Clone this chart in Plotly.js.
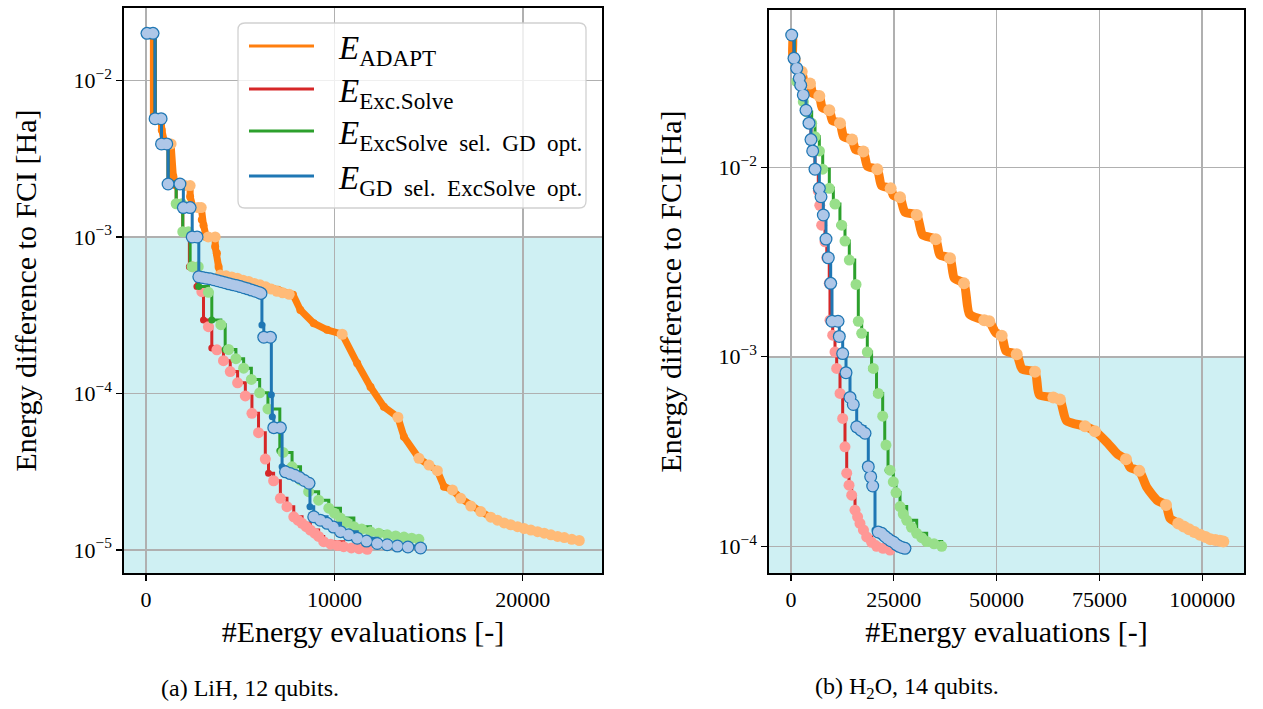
<!DOCTYPE html>
<html><head><meta charset="utf-8">
<script src="https://cdn.plot.ly/plotly-3.0.1.min.js"></script>
<style>html,body{margin:0;padding:0;background:#fff;} #chart{width:1263px;height:709px;}</style>
</head><body><div id="chart"></div>
<script>
// ---------- LiH (left panel) ----------
const lihOrangePathX = [50,390,390,800,835,1000,1330,1367,1450,1600,2340,2340,2500,2930,2960,3050,3200,3670,3670,3760,3850,3940,5000,6000,7000,7800,8190,8900,9610,10410,11207,11915,12622,13367,13686,14484,15016,15463,15814,16261,16702,17234,17766,18298,19005,19718,20425,21133,21846,22994];
const lihOrangePathY = [2.0e-2,2.0e-2,5.7e-3,5.7e-3,4.83e-3,3.93e-3,3.93e-3,2.75e-3,2.43e-3,2.13e-3,2.13e-3,1.81e-3,1.54e-3,1.54e-3,1.29e-3,1.19e-3,1.0e-3,1.0e-3,8.67e-4,7.86e-4,6.46e-4,5.71e-4,5.4e-4,5.0e-4,4.6e-4,4.28e-4,3.42e-4,2.81e-4,2.55e-4,2.39e-4,1.56e-4,1.10e-4,8.23e-5,7.05e-5,5.30e-5,3.85e-5,3.49e-5,3.21e-5,2.54e-5,2.42e-5,2.14e-5,1.91e-5,1.76e-5,1.62e-5,1.49e-5,1.41e-5,1.34e-5,1.28e-5,1.22e-5,1.15e-5];
const lihOrangeIterX = [50,370,480,800,1000,1330,2070,2340,2760,2930,3300,3670,3940,4250,4550,4850,5150,5450,5750,6050,6350,6650,6950,7250,7600,10410,13367,14484,15016,15463,16261,16702,17234,17766,18298,18650,19005,19350,19718,20070,20425,20780,21133,21490,21846,22200,22600,22994];
const lihOrangeIterY = [2.0e-2,2.0e-2,5.7e-3,5.7e-3,3.93e-3,3.93e-3,2.13e-3,2.13e-3,1.54e-3,1.54e-3,1.0e-3,1.0e-3,5.71e-4,5.65e-4,5.55e-4,5.45e-4,5.3e-4,5.2e-4,5.05e-4,4.95e-4,4.8e-4,4.65e-4,4.5e-4,4.4e-4,4.3e-4,2.39e-4,7.05e-5,3.85e-5,3.49e-5,3.21e-5,2.42e-5,2.14e-5,1.91e-5,1.76e-5,1.62e-5,1.55e-5,1.49e-5,1.45e-5,1.41e-5,1.37e-5,1.34e-5,1.31e-5,1.28e-5,1.25e-5,1.22e-5,1.2e-5,1.17e-5,1.15e-5];

const lihRedPathX = [50,370,480,800,820,1100,1170,1500,1600,1900,1950,2250,2300,2600,2700,2960,3050,3310,3490,3760,4110,4470,4860,5270,5620,5970,6330,6500,6770,7130,7480,7840,8280,8720,9160,9430,10490,11740];
const lihRedPathY = [2.0e-2,2.0e-2,5.7e-3,5.7e-3,3.93e-3,3.93e-3,2.18e-3,2.18e-3,1.63e-3,1.63e-3,1.08e-3,1.08e-3,6.46e-4,6.46e-4,4.82e-4,4.47e-4,2.95e-4,2.67e-4,1.95e-4,1.90e-4,1.62e-4,1.38e-4,1.17e-4,9.64e-5,7.47e-5,5.62e-5,3.81e-5,3.09e-5,2.77e-5,2.14e-5,1.89e-5,1.63e-5,1.48e-5,1.34e-5,1.22e-5,1.13e-5,1.05e-5,1.01e-5];
const lihRedIterX = [2450,2960,3310,3760,4110,4470,4860,5270,5620,5970,6330,6770,7130,7480,7840,8060,8280,8500,8720,8950,9160,9430,9800,10150,10490,10900,11300,11740];
const lihRedIterY = [6.46e-4,4.47e-4,2.67e-4,1.90e-4,1.62e-4,1.38e-4,1.17e-4,9.64e-5,7.47e-5,5.62e-5,3.81e-5,2.77e-5,2.14e-5,1.89e-5,1.63e-5,1.55e-5,1.48e-5,1.41e-5,1.34e-5,1.28e-5,1.22e-5,1.13e-5,1.09e-5,1.07e-5,1.05e-5,1.03e-5,1.02e-5,1.01e-5];

const lihGreenPathX = [50,370,480,800,820,1100,1170,1500,1600,1900,1950,2250,2340,2770,2800,3310,3490,3970,4200,4380,4770,5180,5590,6030,6470,7100,7270,7750,8200,8630,9160,9700,10320,11030,11910,12800,13690,14480];
const lihGreenPathY = [2.0e-2,2.0e-2,5.7e-3,5.7e-3,3.93e-3,3.93e-3,2.18e-3,2.18e-3,1.63e-3,1.63e-3,1.08e-3,1.08e-3,6.46e-4,6.46e-4,4.82e-4,4.43e-4,2.95e-4,2.75e-4,1.91e-4,1.91e-4,1.67e-4,1.45e-4,1.23e-4,1.01e-4,7.97e-5,4.3e-5,4.2e-5,3.4e-5,2.8e-5,2.36e-5,2.08e-5,1.85e-5,1.60e-5,1.41e-5,1.31e-5,1.25e-5,1.21e-5,1.17e-5];
const lihGreenIterX = [1600,1900,1950,2250,2450,2770,3310,3970,4380,4770,5180,5590,6030,6470,7270,7750,8200,8630,9160,9700,10000,10320,10650,11030,11450,11910,12350,12800,13250,13690,14100,14480];
const lihGreenIterY = [1.63e-3,1.63e-3,1.08e-3,1.08e-3,6.46e-4,6.46e-4,4.43e-4,2.75e-4,1.91e-4,1.67e-4,1.45e-4,1.23e-4,1.01e-4,7.97e-5,4.2e-5,3.4e-5,2.8e-5,2.36e-5,2.08e-5,1.85e-5,1.72e-5,1.60e-5,1.50e-5,1.41e-5,1.36e-5,1.31e-5,1.28e-5,1.25e-5,1.23e-5,1.21e-5,1.19e-5,1.17e-5];

const lihBluePathX = [50,370,480,800,820,1100,1170,1800,1980,2340,2450,2710,2800,3200,3700,4200,4700,5200,5700,6100,6150,6250,6600,6650,6700,6780,7130,7220,7400,7800,8200,8650,8700,8900,9610,10320,11210,12270,13340,14570];
const lihBluePathY = [2.0e-2,2.0e-2,5.7e-3,5.7e-3,3.93e-3,3.93e-3,2.18e-3,2.18e-3,1.54e-3,1.54e-3,1.0e-3,1.0e-3,5.57e-4,5.45e-4,5.3e-4,5.1e-4,4.9e-4,4.7e-4,4.5e-4,4.36e-4,2.74e-4,2.29e-4,2.29e-4,9.8e-5,7.1e-5,6.05e-5,6.05e-5,3.4e-5,3.16e-5,3.0e-5,2.85e-5,2.67e-5,1.89e-5,1.63e-5,1.48e-5,1.31e-5,1.19e-5,1.10e-5,1.06e-5,1.03e-5];
const lihBlueIterX = [50,370,480,800,820,1100,1170,1800,1980,2340,2450,2710,2800,3000,3200,3400,3600,3800,4000,4200,4400,4600,4800,5000,5200,5400,5600,5800,6000,6100,6250,6600,6780,7130,7400,7650,7900,8150,8400,8650,8900,9250,9610,9950,10320,10750,11210,11700,12270,12800,13340,13900,14570];
const lihBlueIterY = [2.0e-2,2.0e-2,5.7e-3,5.7e-3,3.93e-3,3.93e-3,2.18e-3,2.18e-3,1.54e-3,1.54e-3,1.0e-3,1.0e-3,5.57e-4,5.5e-4,5.45e-4,5.4e-4,5.33e-4,5.25e-4,5.18e-4,5.1e-4,5.02e-4,4.96e-4,4.9e-4,4.82e-4,4.74e-4,4.66e-4,4.58e-4,4.5e-4,4.42e-4,4.36e-4,2.29e-4,2.29e-4,6.05e-5,6.05e-5,3.16e-5,3.08e-5,3.0e-5,2.9e-5,2.78e-5,2.67e-5,1.63e-5,1.55e-5,1.48e-5,1.4e-5,1.31e-5,1.25e-5,1.19e-5,1.14e-5,1.10e-5,1.08e-5,1.06e-5,1.045e-5,1.03e-5];

// ---------- H2O (right panel) ----------
const h2oOrangePathX = [170,410,410,970,1400,2600,3200,4620,5300,6890,7600,9320,10100,11920,12800,14840,15700,17590,18600,20990,22000,24240,24900,26510,27700,30570,32000,35190,36200,38670,39700,42070,43400,47000,48200,49800,51240,52300,54890,56200,59340,60400,63800,65400,67000,71500,73930,77000,79500,81470,82500,84710,86500,89000,91200,92200,94190,96800,99470,102000,105140];
const h2oOrangePathY = [0.0499,0.0499,0.039,0.0368,0.033,0.0319,0.0285,0.0277,0.0245,0.0238,0.0206,0.020,0.0176,0.0171,0.0145,0.0140,0.0124,0.0121,0.0101,9.75e-3,8.0e-3,7.74e-3,7.1e-3,6.94e-3,5.8e-3,5.60e-3,4.4e-3,4.17e-3,3.45e-3,3.31e-3,2.6e-3,2.44e-3,1.68e-3,1.56e-3,1.54e-3,1.34e-3,1.29e-3,1.07e-3,1.03e-3,8.6e-4,8.33e-4,6.3e-4,6.1e-4,5.95e-4,4.6e-4,4.3e-4,4.05e-4,3.5e-4,3.05e-4,2.88e-4,2.6e-4,2.50e-4,2.05e-4,1.75e-4,1.65e-4,1.4e-4,1.32e-4,1.23e-4,1.15e-4,1.09e-4,1.06e-4];
const h2oOrangeIterX = [170,970,2600,4620,6890,9320,11920,14840,17590,20990,24240,26510,30570,35190,38670,42070,47000,48200,51240,54890,59340,63800,65400,71500,73930,81470,84710,91200,94190,95500,96800,98100,99470,100800,102000,103200,104300,105140];
const h2oOrangeIterY = [0.0499,0.0368,0.0319,0.0277,0.0238,0.020,0.0171,0.0140,0.0121,9.75e-3,7.74e-3,6.94e-3,5.60e-3,4.17e-3,3.31e-3,2.44e-3,1.56e-3,1.54e-3,1.29e-3,1.03e-3,8.33e-4,6.1e-4,5.95e-4,4.3e-4,4.05e-4,2.88e-4,2.50e-4,1.65e-4,1.32e-4,1.27e-4,1.23e-4,1.19e-4,1.15e-4,1.12e-4,1.09e-4,1.08e-4,1.07e-4,1.06e-4];

const h2oRedX = [170,730,1390,2020,2360,2990,3650,4380,4860,5280,5840,6640,7000,7460,8270,8700,9300,9480,10140,10700,11110,11920,12570,13130,13550,14110,14760,15570,16200,16780,17600,18410,19600,20840,22400,24080];
const h2oRedY = [0.0499,0.0376,0.0333,0.0295,0.0271,0.0241,0.020,0.0171,0.0140,0.0122,9.77e-3,7.5e-3,6.3e-3,4.95e-3,4.04e-3,3.33e-3,2.44e-3,1.56e-3,1.30e-3,1.06e-3,8.68e-4,6.41e-4,4.73e-4,3.35e-4,2.43e-4,2.10e-4,1.86e-4,1.55e-4,1.43e-4,1.32e-4,1.22e-4,1.12e-4,1.05e-4,1.0e-4,9.75e-5,9.55e-5];

const h2oGreenPathX = [170,800,1390,2990,3820,5030,5840,6890,7710,9320,10300,10700,11900,12330,13130,14180,15500,15810,16370,17190,18560,19600,20020,20800,21230,22300,22800,23100,23600,24080,24880,25540,26510,28140,30570,33000,36650];
const h2oGreenPathY = [0.0499,0.0376,0.0283,0.0222,0.0196,0.0171,0.0145,0.0122,9.77e-3,7.74e-3,6.4e-3,6.40e-3,4.95e-3,4.95e-3,4.08e-3,3.24e-3,2.41e-3,2.41e-3,1.54e-3,1.33e-3,1.06e-3,8.68e-4,8.68e-4,6.41e-4,6.41e-4,4.86e-4,3.42e-4,3.42e-4,2.52e-4,2.52e-4,2.19e-4,1.92e-4,1.62e-4,1.37e-4,1.17e-4,1.06e-4,1.0e-4];
const h2oGreenIterX = [170,800,1390,2990,3820,5030,5840,6890,7710,9320,10700,12330,13130,14180,15810,16370,17190,18560,20020,21230,22300,23100,24080,24880,25540,26510,27300,28140,29300,30570,31800,33000,34800,36650];
const h2oGreenIterY = [0.0499,0.0376,0.0283,0.0222,0.0196,0.0171,0.0145,0.0122,9.77e-3,7.74e-3,6.40e-3,4.95e-3,4.08e-3,3.24e-3,2.41e-3,1.54e-3,1.33e-3,1.06e-3,8.68e-4,6.41e-4,4.86e-4,3.42e-4,2.52e-4,2.19e-4,1.92e-4,1.62e-4,1.48e-4,1.37e-4,1.26e-4,1.17e-4,1.11e-4,1.06e-4,1.03e-4,1.0e-4];

const h2oBluePathX = [170,730,1390,2020,2360,2990,3650,4380,4860,5280,5840,6890,7300,7860,8510,9070,9650,9970,11430,11750,12570,13380,14350,15150,15980,18000,18800,19380,19870,20430,22060,23500,25000,26300,27720];
const h2oBluePathY = [0.0499,0.0376,0.0333,0.0295,0.0271,0.0241,0.020,0.0171,0.0140,0.0122,9.77e-3,7.74e-3,6.99e-3,5.60e-3,4.18e-3,3.33e-3,2.44e-3,1.54e-3,1.54e-3,1.28e-3,1.04e-3,8.24e-4,6.1e-4,5.6e-4,4.27e-4,3.95e-4,2.63e-4,2.33e-4,2.08e-4,1.22e-4,1.17e-4,1.1e-4,1.05e-4,1.0e-4,9.75e-5];
const h2oBlueIterX = [170,730,1390,2020,2360,2990,3650,4380,4860,5280,5840,6890,7300,7860,8510,9070,9650,9970,11430,11750,12570,13380,14350,15150,15980,17000,18000,18800,19380,19870,21200,22060,22800,23500,24250,25000,25650,26300,27000,27720];
const h2oBlueIterY = [0.0499,0.0376,0.0333,0.0295,0.0271,0.0241,0.020,0.0171,0.0140,0.0122,9.77e-3,7.74e-3,6.99e-3,5.60e-3,4.18e-3,3.33e-3,2.44e-3,1.54e-3,1.54e-3,1.28e-3,1.04e-3,8.24e-4,6.1e-4,5.6e-4,4.27e-4,4.1e-4,3.95e-4,2.63e-4,2.33e-4,2.08e-4,1.19e-4,1.17e-4,1.13e-4,1.1e-4,1.07e-4,1.05e-4,1.02e-4,1.0e-4,9.85e-5,9.75e-5];

// ---------- ticks / labels ----------
const lihXTicks = [0,10000,20000];
const h2oXTicks = [0,25000,50000,75000,100000];
const lihYTicks = [1e-5,1e-4,1e-3,1e-2];
const lihYTickText = ['10<sup>−5</sup>','10<sup>−4</sup>','10<sup>−3</sup>','10<sup>−2</sup>'];
const h2oYTicks = [1e-4,1e-3,1e-2];
const h2oYTickText = ['10<sup>−4</sup>','10<sup>−3</sup>','10<sup>−2</sup>'];
const lihMinor = [8e-6,9e-6,2e-5,3e-5,4e-5,5e-5,6e-5,7e-5,8e-5,9e-5,2e-4,3e-4,4e-4,5e-4,6e-4,7e-4,8e-4,9e-4,2e-3,3e-3,4e-3,5e-3,6e-3,7e-3,8e-3,9e-3,2e-2];
const h2oMinor = [8e-5,9e-5,2e-4,3e-4,4e-4,5e-4,6e-4,7e-4,8e-4,9e-4,2e-3,3e-3,4e-3,5e-3,6e-3,7e-3,8e-3,9e-3,2e-2,3e-2,4e-2,5e-2,6e-2];
const threshold = 1e-3;
const legendNames = ['<i>E</i><sub>ADAPT</sub>','<i>E</i><sub>Exc.Solve</sub>','<i>E</i><sub>ExcSolve  sel.  GD  opt.</sub>','<i>E</i><sub>GD  sel.  ExcSolve  opt.</sub>'];
const captions = ['(a) LiH, 12 qubits.','(b) H<sub>2</sub>O, 14 qubits.'];
const xTitle = '#Energy evaluations [-]';
const yTitle = 'Energy difference to FCI [Ha]';

// ---------- styles ----------
const C = {
  orange: '#ff7f0e', orangeL: '#ffbb78',
  red: '#d62728', redL: '#ff9896',
  green: '#2ca02c', greenL: '#98df8a',
  blue: '#1f77b4', blueL: '#aec7e8'
};
const FONT = 'Liberation Serif, DejaVu Serif, serif';

function pathTrace(x, y, color, width, shape, xa, ya, msize, smoothing) {
  const line = {color, width, shape};
  if (smoothing) line.smoothing = smoothing;
  return {x, y, xaxis: xa, yaxis: ya, type: 'scatter', mode: msize ? 'lines+markers' : 'lines',
    line, marker: {color, size: msize || 6}, showlegend: false, hoverinfo: 'skip'};
}
function iterTrace(x, y, color, size, xa, ya) {
  return {x, y, xaxis: xa, yaxis: ya, type: 'scatter', mode: 'markers',
    marker: {color, size, line: {width: 0}}, showlegend: false, hoverinfo: 'skip'};
}

const traces = [
  pathTrace(lihOrangePathX, lihOrangePathY, C.orange, 7, 'linear', 'x', 'y', 8),
  iterTrace(lihOrangeIterX, lihOrangeIterY, C.orangeL, 11, 'x', 'y'),
  pathTrace(lihRedPathX, lihRedPathY, C.red, 3, 'hv', 'x', 'y', 7),
  iterTrace(lihRedIterX, lihRedIterY, C.redL, 11, 'x', 'y'),
  pathTrace(lihGreenPathX, lihGreenPathY, C.green, 3, 'hv', 'x', 'y', 7),
  iterTrace(lihGreenIterX, lihGreenIterY, C.greenL, 11, 'x', 'y'),
  pathTrace(lihBluePathX, lihBluePathY, C.blue, 3, 'hv', 'x', 'y', 7),
  iterTrace(lihBlueIterX, lihBlueIterY, C.blue, 13, 'x', 'y'),
  iterTrace(lihBlueIterX, lihBlueIterY, C.blueL, 10.5, 'x', 'y'),

  pathTrace(h2oOrangePathX, h2oOrangePathY, C.orange, 9, 'spline', 'x2', 'y2', 0, 0.6),
  iterTrace(h2oOrangeIterX, h2oOrangeIterY, C.orangeL, 12, 'x2', 'y2'),
  pathTrace(h2oRedX, h2oRedY, C.red, 3, 'hv', 'x2', 'y2', 7),
  iterTrace(h2oRedX, h2oRedY, C.redL, 11, 'x2', 'y2'),
  pathTrace(h2oGreenPathX, h2oGreenPathY, C.green, 3, 'hv', 'x2', 'y2', 7),
  iterTrace(h2oGreenIterX, h2oGreenIterY, C.greenL, 11, 'x2', 'y2'),
  pathTrace(h2oBluePathX, h2oBluePathY, C.blue, 3, 'hv', 'x2', 'y2', 7),
  iterTrace(h2oBlueIterX, h2oBlueIterY, C.blue, 13, 'x2', 'y2'),
  iterTrace(h2oBlueIterX, h2oBlueIterY, C.blueL, 10.5, 'x2', 'y2')
];

const tickFont = {family: FONT, size: 22, color: '#000'};
const titleFont = {family: FONT, size: 30, color: '#000'};
function xAxis(domain, range, tickvals, yref) {
  return {domain, range, tickvals, ticktext: tickvals.map(String), anchor: yref,
    ticks: 'outside', ticklen: 6, tickwidth: 1.2, tickcolor: '#000',
    showline: true, linecolor: '#000', linewidth: 1.6, mirror: true,
    showgrid: true, gridcolor: '#b0b0b0', gridwidth: 1.5, zeroline: false,
    tickfont: tickFont, title: {text: xTitle, font: titleFont, standoff: 10}};
}
function yAxis(domain, range, tickvals, ticktext, xref) {
  return {domain, range, type: 'log', tickvals, ticktext, anchor: xref,
    ticks: 'outside', ticklen: 6, tickwidth: 1.2, tickcolor: '#000',
    showline: true, linecolor: '#000', linewidth: 1.6, mirror: true,
    showgrid: true, gridcolor: '#b0b0b0', gridwidth: 1.5, zeroline: false,
    tickfont: tickFont, title: {text: yTitle, font: titleFont, standoff: 28}};
}
function minorAxis(over, xref, range, tickvals) {
  return {overlaying: over, anchor: xref, type: 'log', range, tickmode: 'array', tickvals,
    ticks: 'outside', ticklen: 3.5, tickwidth: 1,
    tickcolor: '#000', showgrid: false, showline: false, zeroline: false, showticklabels: false};
}

const lihYRange = [-5.147, -1.537];
const h2oYRange = [-4.141, -1.170];

// legend (drawn in left panel)
const W = 1263, H = 709;
const px = v => v / W, py = v => 1 - v / H;
const lx0 = px(238), lx1 = px(586), ly0 = py(23), ly1 = py(208), rx = 7 / W, ry = 7 / H;
const legendBox = `M ${lx0 + rx},${ly0} L ${lx1 - rx},${ly0} Q ${lx1},${ly0} ${lx1},${ly0 - ry} L ${lx1},${ly1 + ry} Q ${lx1},${ly1} ${lx1 - rx},${ly1} L ${lx0 + rx},${ly1} Q ${lx0},${ly1} ${lx0},${ly1 + ry} L ${lx0},${ly0 - ry} Q ${lx0},${ly0} ${lx0 + rx},${ly0} Z`;
const legendColors = [C.orange, C.red, C.green, C.blue];
const legendRows = [46, 89, 131, 176];

const shapes = [
  {type: 'rect', xref: 'x domain', yref: 'y', x0: 0, x1: 1, y0: 1e-7, y1: threshold,
   fillcolor: 'rgb(207,240,243)', line: {width: 0}, layer: 'below'},
  {type: 'rect', xref: 'x2 domain', yref: 'y2', x0: 0, x1: 1, y0: 1e-7, y1: threshold,
   fillcolor: 'rgb(207,240,243)', line: {width: 0}, layer: 'below'},
  {type: 'path', xref: 'paper', yref: 'paper', path: legendBox,
   fillcolor: 'rgba(255,255,255,0.8)', line: {color: 'rgba(204,204,204,0.9)', width: 1.3}, layer: 'above'}
];
legendRows.forEach((r, i) => shapes.push({type: 'line', xref: 'paper', yref: 'paper',
  x0: px(249), x1: px(314), y0: py(r), y1: py(r), line: {color: legendColors[i], width: 3}, layer: 'above'}));

const annotations = legendRows.map((r, i) => ({xref: 'paper', yref: 'paper', x: px(336), y: py(r + 4),
  xanchor: 'left', yanchor: 'middle', text: legendNames[i], showarrow: false,
  font: {family: FONT, size: 33, color: '#000'}}));
annotations.push({xref: 'paper', yref: 'paper', x: px(250), y: py(688), xanchor: 'center', yanchor: 'middle',
  text: captions[0], showarrow: false, font: {family: FONT, size: 24, color: '#000'}});
annotations.push({xref: 'paper', yref: 'paper', x: px(907), y: py(688), xanchor: 'center', yanchor: 'middle',
  text: captions[1], showarrow: false, font: {family: FONT, size: 24, color: '#000'}});

const layout = {
  width: W, height: H, margin: {l: 0, r: 0, t: 0, b: 0},
  paper_bgcolor: '#fff', plot_bgcolor: 'rgba(0,0,0,0)', showlegend: false,
  font: {family: FONT, color: '#000'},
  xaxis: xAxis([124 / W, 602 / W], [-1170, 24200], lihXTicks, 'y'),
  yaxis: yAxis([1 - 573 / H, 1 - 8 / H], lihYRange, lihYTicks, lihYTickText, 'x'),
  xaxis2: xAxis([769 / W, 1244 / W], [-5350, 110170], h2oXTicks, 'y2'),
  yaxis2: yAxis([1 - 573 / H, 1 - 10 / H], h2oYRange, h2oYTicks, h2oYTickText, 'x2'),
  yaxis3: minorAxis('y', 'x', lihYRange, lihMinor),
  yaxis4: minorAxis('y2', 'x2', h2oYRange, h2oMinor),
  shapes, annotations
};

Plotly.newPlot('chart', traces, layout, {staticPlot: true, displayModeBar: false});
</script></body></html>
